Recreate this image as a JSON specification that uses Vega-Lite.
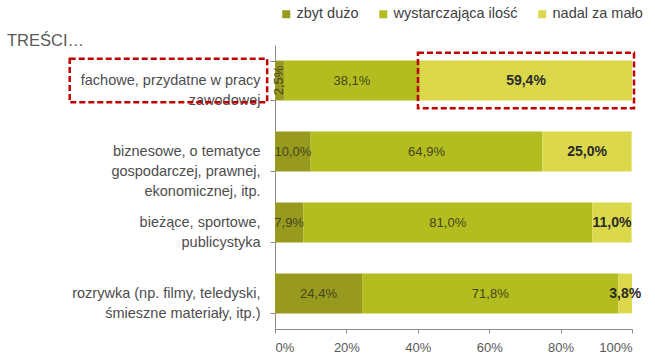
{
  "$schema": "https://vega.github.io/schema/vega-lite/v6.json",
  "width": 357,
  "height": 284,
  "autosize": {"type": "none"},
  "padding": {"left": 275, "top": 45, "right": 23, "bottom": 34},
  "background": "white",
  "config": {"font": "Liberation Sans", "view": {"stroke": null}},
  "title": {
    "text": "TREŚCI…",
    "anchor": "start",
    "frame": "group",
    "dx": -268,
    "dy": 55,
    "offset": 0,
    "baseline": "alphabetic",
    "fontSize": 16.5,
    "fontWeight": "normal",
    "color": "#595959"
  },
  "data": {
    "values": [
      {"cat": "fachowe, przydatne w pracy zawodowej", "seria": "zbyt dużo", "kol": 1, "v": 2.5, "lab": "2,5%"},
      {"cat": "fachowe, przydatne w pracy zawodowej", "seria": "wystarczająca ilość", "kol": 2, "v": 38.1, "lab": "38,1%"},
      {"cat": "fachowe, przydatne w pracy zawodowej", "seria": "nadal za mało", "kol": 3, "v": 59.4, "lab": "59,4%"},
      {"cat": "biznesowe, o tematyce gospodarczej, prawnej, ekonomicznej, itp.", "seria": "zbyt dużo", "kol": 1, "v": 10.0, "lab": "10,0%"},
      {"cat": "biznesowe, o tematyce gospodarczej, prawnej, ekonomicznej, itp.", "seria": "wystarczająca ilość", "kol": 2, "v": 64.9, "lab": "64,9%"},
      {"cat": "biznesowe, o tematyce gospodarczej, prawnej, ekonomicznej, itp.", "seria": "nadal za mało", "kol": 3, "v": 25.0, "lab": "25,0%"},
      {"cat": "bieżące, sportowe, publicystyka", "seria": "zbyt dużo", "kol": 1, "v": 7.9, "lab": "7,9%"},
      {"cat": "bieżące, sportowe, publicystyka", "seria": "wystarczająca ilość", "kol": 2, "v": 81.0, "lab": "81,0%"},
      {"cat": "bieżące, sportowe, publicystyka", "seria": "nadal za mało", "kol": 3, "v": 11.0, "lab": "11,0%"},
      {"cat": "rozrywka (np. filmy, teledyski, śmieszne materiały, itp.)", "seria": "zbyt dużo", "kol": 1, "v": 24.4, "lab": "24,4%"},
      {"cat": "rozrywka (np. filmy, teledyski, śmieszne materiały, itp.)", "seria": "wystarczająca ilość", "kol": 2, "v": 71.8, "lab": "71,8%"},
      {"cat": "rozrywka (np. filmy, teledyski, śmieszne materiały, itp.)", "seria": "nadal za mało", "kol": 3, "v": 3.8, "lab": "3,8%"}
    ]
  },
  "encoding": {
    "y": {
      "field": "cat",
      "type": "nominal",
      "sort": [
        "fachowe, przydatne w pracy zawodowej",
        "biznesowe, o tematyce gospodarczej, prawnej, ekonomicznej, itp.",
        "bieżące, sportowe, publicystyka",
        "rozrywka (np. filmy, teledyski, śmieszne materiały, itp.)"
      ],
      "scale": {"paddingInner": 0.44, "paddingOuter": 0.22},
      "axis": {
        "title": null,
        "tickBand": "extent",
        "domainColor": "#8c8c8c",
        "tickColor": "#8c8c8c",
        "tickSize": 5,
        "labelFontSize": 14.5,
        "labelColor": "#4d4d4d",
        "labelPadding": 10,
        "labelLineHeight": 20,
        "labelLimit": 300,
        "labelExpr": "datum.label == 'fachowe, przydatne w pracy zawodowej' ? ['fachowe, przydatne w pracy', 'zawodowej'] : datum.label == 'biznesowe, o tematyce gospodarczej, prawnej, ekonomicznej, itp.' ? ['biznesowe, o tematyce', 'gospodarczej, prawnej,', 'ekonomicznej, itp.'] : datum.label == 'bieżące, sportowe, publicystyka' ? ['bieżące, sportowe,', 'publicystyka'] : datum.label == 'rozrywka (np. filmy, teledyski, śmieszne materiały, itp.)' ? ['rozrywka (np. filmy, teledyski,', 'śmieszne materiały, itp.)'] : ''"
      }
    }
  },
  "layer": [
    {
      "mark": {"type": "bar"},
      "encoding": {
        "x": {
          "field": "v",
          "type": "quantitative",
          "stack": "zero",
          "scale": {"domain": [0, 100], "nice": false},
          "axis": {
            "title": null,
            "values": [0, 20, 40, 60, 80, 100],
            "labelExpr": "datum.value + '%'",
            "grid": false,
            "domainColor": "#8c8c8c",
            "tickColor": "#8c8c8c",
            "tickSize": 4,
            "labelFontSize": 13,
            "labelColor": "#595959",
            "labelPadding": 8
          }
        },
        "order": {"field": "kol"},
        "color": {
          "field": "seria",
          "type": "nominal",
          "scale": {
            "domain": ["zbyt dużo", "wystarczająca ilość", "nadal za mało"],
            "range": ["#979a1e", "#b3bd1f", "#dbd94b"]
          },
          "legend": {
            "orient": "none",
            "legendX": 4,
            "legendY": -38,
            "direction": "horizontal",
            "gridAlign": "none",
            "title": null,
            "symbolType": "square",
            "symbolSize": 64,
            "symbolStrokeWidth": 0,
            "labelFontSize": 14.5,
            "labelColor": "#404040",
            "labelOffset": 3,
            "columnPadding": 17
          }
        }
      }
    },
    {
      "mark": {"type": "text", "baseline": "middle", "align": "center", "fontSize": 13},
      "encoding": {
        "x": {"field": "v", "type": "quantitative", "stack": "zero", "bandPosition": 0.5},
        "order": {"field": "kol"},
        "detail": {"field": "seria"},
        "text": {"field": "lab"},
        "angle": {"condition": {"test": "datum.v < 3", "value": 270}, "value": 0},
        "opacity": {"condition": {"test": "datum.seria === 'nadal za mało'", "value": 0}, "value": 1},
        "color": {"value": "#45451c"}
      }
    },
    {
      "mark": {"type": "text", "baseline": "middle", "align": "center", "fontSize": 14, "fontWeight": "bold"},
      "encoding": {
        "x": {"field": "v", "type": "quantitative", "stack": "zero", "bandPosition": 0.5},
        "order": {"field": "kol"},
        "detail": {"field": "seria"},
        "text": {"field": "lab"},
        "opacity": {"condition": {"test": "datum.seria === 'nadal za mało'", "value": 1}, "value": 0},
        "color": {"value": "#2b2b2b"}
      }
    },
    {
      "transform": [{"filter": "datum.cat === 'fachowe, przydatne w pracy zawodowej' && datum.seria === 'nadal za mało'"}],
      "mark": {
        "type": "bar",
        "height": {"band": 1.4},
        "fill": null,
        "fillOpacity": 0,
        "stroke": "#c00000",
        "strokeWidth": 2.5,
        "strokeDash": [6, 3],
        "xOffset": -2,
        "x2Offset": 2,
        "clip": false
      },
      "encoding": {
        "x": {"datum": 40.6, "type": "quantitative"},
        "x2": {"datum": 100}
      }
    },
    {
      "transform": [{"filter": "datum.cat === 'fachowe, przydatne w pracy zawodowej' && datum.seria === 'nadal za mało'"}],
      "mark": {
        "type": "bar",
        "height": {"band": 1.1},
        "fill": null,
        "fillOpacity": 0,
        "stroke": "#c00000",
        "strokeWidth": 2.5,
        "strokeDash": [6, 3],
        "clip": false
      },
      "encoding": {
        "x": {"datum": -57.5, "type": "quantitative"},
        "x2": {"datum": -2.2}
      }
    }
  ]
}
